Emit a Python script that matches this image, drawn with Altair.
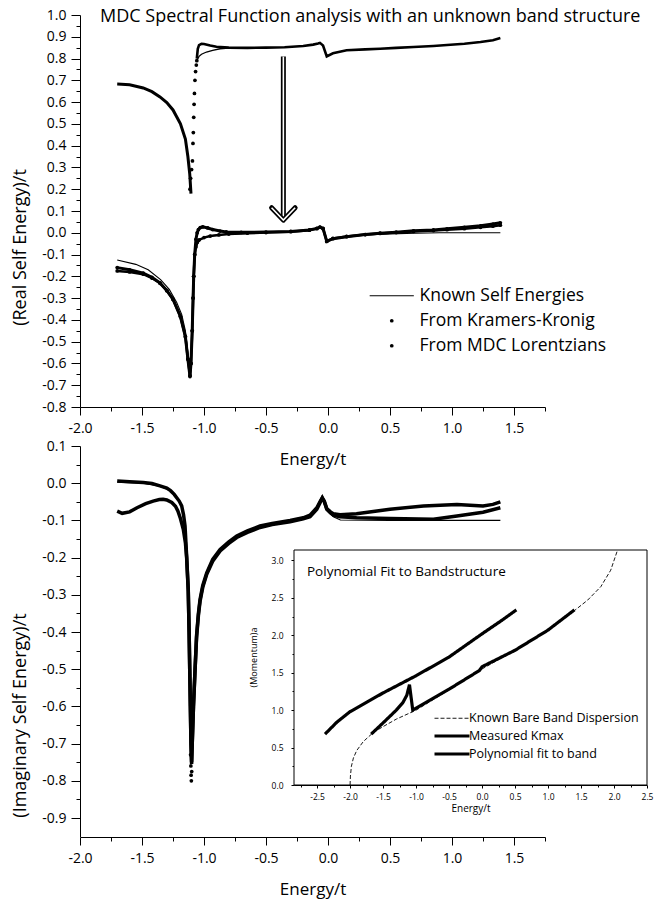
import altair as alt
import pandas as pd

FONT = "Open Sans"
LABEL_EXPR = "replace(format(datum.value, '.1f'), '\u2212', '-')"

TITLE = "MDC Spectral Function analysis with an unknown band structure"
INSET_TITLE = "Polynomial Fit to Bandstructure"

# ---------------- tick values ----------------
X_TICKS = [-2.0, -1.5, -1.0, -0.5, 0.0, 0.5, 1.0, 1.5]
X_MINOR = [-1.75, -1.25, -0.75, -0.25, 0.25, 0.75, 1.25, 1.75]
RE_TICKS = [-0.8, -0.7, -0.6, -0.5, -0.4, -0.3, -0.2, -0.1, 0.0, 0.1,
            0.2, 0.3, 0.4, 0.5, 0.6, 0.7, 0.8, 0.9, 1.0]
RE_MINOR = [-0.75, -0.65, -0.55, -0.45, -0.35, -0.25, -0.15, -0.05, 0.05,
            0.15, 0.25, 0.35, 0.45, 0.55, 0.65, 0.75, 0.85, 0.95]
IM_TICKS = [-0.9, -0.8, -0.7, -0.6, -0.5, -0.4, -0.3, -0.2, -0.1, 0.0, 0.1]
IM_MINOR = [-0.85, -0.75, -0.65, -0.55, -0.45, -0.35, -0.25, -0.15, -0.05, 0.05]
INS_X_TICKS = [-2.5, -2.0, -1.5, -1.0, -0.5, 0.0, 0.5, 1.0, 1.5, 2.0, 2.5]
INS_X_MINOR = [-2.75, -2.25, -1.75, -1.25, -0.75, -0.25, 0.25, 0.75, 1.25, 1.75, 2.25]
INS_Y_TICKS = [0.0, 0.5, 1.0, 1.5, 2.0, 2.5, 3.0]
INS_Y_MINOR = [0.25, 0.75, 1.25, 1.75, 2.25, 2.75]

X_DOMAIN = [-2.0, 1.75]
RE_DOMAIN = [-0.8, 1.0]
IM_DOMAIN = [-0.95, 0.1]
INS_X_DOMAIN = [-2.85, 2.5]
INS_Y_DOMAIN = [0.0, 3.14]

# ---------------- real part of the self energy (E, Re) ----------------
RE_KNOWN = [(-1.70, -0.125), (-1.55, -0.145), (-1.45, -0.17), (-1.35, -0.215), (-1.28, -0.26),
            (-1.22, -0.32), (-1.18, -0.375), (-1.15, -0.45), (-1.13, -0.55), (-1.113, -0.64),
            (-1.105, -0.6), (-1.095, -0.45), (-1.088, -0.3), (-1.083, -0.2), (-1.075, -0.1),
            (-1.065, -0.07), (-1.05, -0.048), (-1.03, -0.033), (-1.00, -0.022), (-0.95, -0.014),
            (-0.85, -0.008), (-0.70, -0.004), (-0.50, 0.0), (-0.30, 0.005), (-0.15, 0.012),
            (-0.09, 0.019), (-0.065, 0.024), (-0.04, 0.018), (-0.01, -0.036), (0.04, -0.027),
            (0.15, -0.018), (0.30, -0.01), (0.50, -0.005), (0.70, -0.002), (0.90, 0.0),
            (1.10, 0.0), (1.39, 0.0)]
RE_MDC = [(-1.70, -0.16), (-1.60, -0.17), (-1.49, -0.185), (-1.42, -0.205), (-1.355, -0.23),
          (-1.30, -0.265), (-1.25, -0.305), (-1.19, -0.385), (-1.15, -0.477), (-1.13, -0.58),
          (-1.113, -0.66), (-1.105, -0.6), (-1.095, -0.45), (-1.088, -0.3), (-1.083, -0.2),
          (-1.075, -0.1), (-1.065, -0.03), (-1.055, 0.0), (-1.045, 0.015), (-1.03, 0.024),
          (-1.01, 0.027), (-0.97, 0.022), (-0.93, 0.015), (-0.87, 0.008), (-0.82, 0.004),
          (-0.70, 0.002), (-0.50, 0.003), (-0.30, 0.006), (-0.15, 0.013), (-0.09, 0.02),
          (-0.065, 0.026), (-0.04, 0.02), (-0.01, -0.04), (0.04, -0.027), (0.15, -0.018),
          (0.30, -0.008), (0.42, -0.002), (0.55, 0.003), (0.69, 0.009), (0.85, 0.013),
          (0.96, 0.018), (1.10, 0.025), (1.23, 0.032), (1.33, 0.04), (1.39, 0.046)]
RE_KK = [(-1.70, -0.175), (-1.60, -0.18), (-1.49, -0.19), (-1.42, -0.208), (-1.355, -0.232),
         (-1.30, -0.266), (-1.25, -0.306), (-1.19, -0.385), (-1.15, -0.477), (-1.13, -0.58),
         (-1.113, -0.655), (-1.105, -0.6), (-1.095, -0.45), (-1.088, -0.3), (-1.083, -0.2),
         (-1.075, -0.1), (-1.065, -0.065), (-1.055, -0.045), (-1.04, -0.033), (-1.00, -0.022),
         (-0.95, -0.015), (-0.88, -0.01), (-0.80, -0.006), (-0.65, -0.002), (-0.50, 0.001),
         (-0.30, 0.005), (-0.15, 0.012), (-0.09, 0.019), (-0.065, 0.025), (-0.04, 0.019),
         (-0.01, -0.038), (0.04, -0.026), (0.15, -0.017), (0.30, -0.008), (0.42, -0.003),
         (0.55, 0.001), (0.69, 0.006), (0.85, 0.01), (0.96, 0.014), (1.10, 0.019),
         (1.23, 0.025), (1.33, 0.03), (1.39, 0.035)]

# the same curves drawn 0.85 higher (before the shift indicated by the arrow)
UP_LEFT = [(-1.70, 0.683), (-1.60, 0.68), (-1.49, 0.665), (-1.42, 0.648), (-1.355, 0.624),
           (-1.30, 0.598), (-1.25, 0.564), (-1.19, 0.50), (-1.15, 0.43), (-1.13, 0.35),
           (-1.115, 0.27), (-1.105, 0.18)]
UP_KK_DOTS = [(-1.113, 0.20), (-1.108, 0.25), (-1.10, 0.29), (-1.093, 0.33), (-1.089, 0.41),
              (-1.086, 0.46), (-1.083, 0.53), (-1.08, 0.59), (-1.077, 0.64), (-1.073, 0.70),
              (-1.068, 0.74), (-1.062, 0.77), (-1.058, 0.79)]
UP_KK = [(-1.058, 0.79), (-1.04, 0.81), (-1.02, 0.82), (-0.98, 0.83), (-0.93, 0.838),
         (-0.87, 0.845), (-0.80, 0.848), (-0.70, 0.85), (-0.55, 0.85)]
UP_MDC = [(-1.058, 0.80), (-1.05, 0.845), (-1.04, 0.862), (-1.02, 0.868), (-1.00, 0.867),
          (-0.95, 0.86), (-0.90, 0.854), (-0.80, 0.85), (-0.65, 0.849), (-0.50, 0.85),
          (-0.35, 0.852), (-0.20, 0.858), (-0.12, 0.864), (-0.08, 0.869), (-0.065, 0.872),
          (-0.04, 0.86), (-0.01, 0.81), (0.04, 0.824), (0.15, 0.838), (0.30, 0.842),
          (0.42, 0.845), (0.55, 0.849), (0.69, 0.853), (0.85, 0.858), (0.96, 0.862),
          (1.10, 0.868), (1.23, 0.876), (1.33, 0.884), (1.39, 0.894)]

# arrow showing the downward shift
ARROW_E = -0.36
ARROW_TOP = 0.809
ARROW_TIP = 0.058
ARROW_HEAD = [(-0.455, 0.115), (-0.36, 0.058), (-0.265, 0.115)]

# ---------------- imaginary part of the self energy (E, Im) ----------------
IM_A = [(-1.70, 0.006), (-1.60, 0.004), (-1.49, 0.002), (-1.42, -0.001), (-1.355, -0.007),
        (-1.30, -0.013), (-1.27, -0.02), (-1.24, -0.03), (-1.22, -0.039), (-1.20, -0.048),
        (-1.18, -0.061), (-1.165, -0.085), (-1.153, -0.115), (-1.14, -0.196), (-1.127, -0.286),
        (-1.12, -0.40), (-1.115, -0.50), (-1.11, -0.60), (-1.105, -0.70), (-1.10, -0.755),
        (-1.095, -0.70), (-1.085, -0.60), (-1.072, -0.50), (-1.06, -0.41), (-1.045, -0.35),
        (-1.032, -0.313), (-1.01, -0.275), (-0.978, -0.241), (-0.93, -0.205), (-0.87, -0.178),
        (-0.80, -0.158), (-0.736, -0.142), (-0.65, -0.128), (-0.548, -0.115), (-0.45, -0.108),
        (-0.306, -0.10), (-0.20, -0.093), (-0.145, -0.086), (-0.09, -0.066), (-0.065, -0.05),
        (-0.046, -0.039), (-0.03, -0.05), (-0.01, -0.07), (0.02, -0.08), (0.043, -0.086),
        (0.097, -0.09), (0.23, -0.093), (0.50, -0.095), (0.85, -0.097), (1.04, -0.088),
        (1.25, -0.078), (1.39, -0.066)]
IM_B = [(-1.70, -0.075), (-1.66, -0.081), (-1.60, -0.077), (-1.54, -0.066), (-1.47, -0.055),
        (-1.41, -0.048), (-1.36, -0.044), (-1.33, -0.043), (-1.30, -0.045), (-1.26, -0.052),
        (-1.23, -0.062), (-1.21, -0.075), (-1.19, -0.095), (-1.167, -0.124), (-1.15, -0.16),
        (-1.14, -0.20), (-1.127, -0.29), (-1.12, -0.40), (-1.115, -0.50), (-1.11, -0.60),
        (-1.105, -0.70), (-1.10, -0.75), (-1.095, -0.70), (-1.085, -0.60), (-1.072, -0.50),
        (-1.06, -0.415), (-1.045, -0.355), (-1.032, -0.318), (-1.01, -0.28), (-0.978, -0.245),
        (-0.93, -0.21), (-0.87, -0.182), (-0.80, -0.162), (-0.736, -0.146), (-0.65, -0.132),
        (-0.548, -0.119), (-0.45, -0.111), (-0.306, -0.104), (-0.20, -0.096), (-0.145, -0.09),
        (-0.09, -0.07), (-0.065, -0.053), (-0.046, -0.04), (-0.03, -0.048), (-0.01, -0.068),
        (0.02, -0.077), (0.043, -0.082), (0.097, -0.085), (0.23, -0.082), (0.50, -0.07),
        (0.77, -0.061), (1.04, -0.057), (1.25, -0.061), (1.33, -0.057), (1.39, -0.05)]
IM_KNOWN = [(-1.70, 0.003), (-1.49, 0.0), (-1.355, -0.008), (-1.27, -0.02), (-1.22, -0.038),
            (-1.18, -0.06), (-1.153, -0.113), (-1.14, -0.19), (-1.127, -0.28), (-1.12, -0.39),
            (-1.11, -0.60), (-1.10, -0.75), (-1.085, -0.60), (-1.06, -0.405), (-1.032, -0.313),
            (-0.978, -0.241), (-0.87, -0.178), (-0.736, -0.142), (-0.548, -0.115), (-0.306, -0.10),
            (-0.145, -0.087), (-0.09, -0.067), (-0.046, -0.041), (-0.01, -0.072), (0.043, -0.09),
            (0.10, -0.099), (0.50, -0.10), (1.00, -0.10), (1.39, -0.10)]
IM_DOTS = [(-1.108, -0.73), (-1.106, -0.76), (-1.104, -0.785), (-1.102, -0.80), (-1.099, -0.775)]

# ---------------- inset: band structure (E, k*a) ----------------
BARE_BAND = [(-2.0, 0.0), (-1.995, 0.12), (-1.98, 0.25), (-1.95, 0.36), (-1.90, 0.46),
             (-1.80, 0.58), (-1.65, 0.70), (-1.50, 0.78), (-1.30, 0.88), (-1.10, 0.96),
             (-1.0, 1.0), (-0.5, 1.27), (0.0, 1.55), (0.5, 1.80), (1.0, 2.07), (1.4, 2.33),
             (1.6, 2.47), (1.8, 2.65), (1.95, 2.87), (2.05, 3.13)]
K_MAX = [(-1.68, 0.68), (-1.50, 0.83), (-1.30, 1.0), (-1.20, 1.10), (-1.14, 1.20),
         (-1.10, 1.34), (-1.05, 1.0), (-0.5, 1.28), (-0.04, 1.53), (0.0, 1.58), (0.5, 1.80),
         (1.0, 2.07), (1.4, 2.34)]
POLY_FIT = [(-2.38, 0.68), (-2.2, 0.84), (-2.0, 0.98), (-1.5, 1.23), (-1.0, 1.46),
            (-0.5, 1.71), (0.0, 2.02), (0.3, 2.20), (0.52, 2.34)]

TOP_SERIES = ["Known Self Energies", "From Kramers-Kronig", "From MDC Lorentzians"]
INSET_SERIES = ["Known Bare Band Dispersion", "Measured Kmax", "Polynomial fit to band"]

# ---------------- layout (pixels inside the shared plot area) ----------------
W, H = 567, 822
TOP_X = alt.Scale(domain=X_DOMAIN, range=[0, 465], nice=False, zero=False)
TOP_Y = alt.Scale(domain=RE_DOMAIN, range=[392, 0], nice=False, zero=False)
BOT_X = alt.Scale(domain=X_DOMAIN, range=[0, 465], nice=False, zero=False)
BOT_Y = alt.Scale(domain=IM_DOMAIN, range=[821.6, 431], nice=False, zero=False)
INS_X = alt.Scale(domain=INS_X_DOMAIN, range=[214, 567], nice=False, zero=False)
INS_Y = alt.Scale(domain=INS_Y_DOMAIN, range=[770, 535], nice=False, zero=False)


def frame(pairs, **extra):
    df = pd.DataFrame(pairs, columns=["E", "v"])
    for k, val in extra.items():
        df[k] = val
    return df


def enc(xs, ys, xaxis=None, yaxis=None):
    # layers without an explicit axis keep the default so that the panel's
    # axis defined on another layer is merged in, not disabled
    xkw = {"scale": xs}
    ykw = {"scale": ys}
    if xaxis is not None:
        xkw["axis"] = xaxis
    if yaxis is not None:
        ykw["axis"] = yaxis
    return dict(x=alt.X("E:Q", **xkw), y=alt.Y("v:Q", **ykw))


def curve(pairs, xs, ys, width, **kw):
    return alt.Chart(frame(pairs)).mark_line(color="black", strokeWidth=width, **kw).encode(**enc(xs, ys))


def major_x(offset, title):
    return alt.Axis(values=X_TICKS, orient="bottom", offset=offset, title=title, labelExpr=LABEL_EXPR,
                    tickSize=8, labelPadding=6, labelFontSize=14, titleFontSize=17,
                    titlePadding=16, labelFlush=False, labelOverlap=False)


def major_y(values, title, title_y):
    return alt.Axis(values=values, orient="left", title=title, labelExpr=LABEL_EXPR, tickSize=9,
                    labelPadding=5, labelFontSize=14, titleFontSize=18, titleX=-51, titleY=title_y,
                    titleBaseline="bottom", labelFlush=False, labelOverlap=False)


def minor_axis(values, orient, offset=0, tick=4):
    return alt.Axis(values=values, orient=orient, offset=offset, labels=False, domain=False,
                    tickSize=tick, title=None)


# ---------------- top panel: real part ----------------
top_axes = alt.Chart(frame(RE_MDC)).mark_line(color="black", strokeWidth=3).encode(
    **enc(TOP_X, TOP_Y, major_x(-430, "Energy/t"), major_y(RE_TICKS, "(Real Self Energy)/t", 232)))

shape_scale = alt.Scale(domain=TOP_SERIES, range=["M-11.8,-0.3H11.8V0.3H-11.8Z", "circle", "circle"])
top_legend = alt.Legend(title=None, orient="none", legendX=303, legendY=272, labelFont=FONT,
                        labelFontSize=17.5, labelOffset=19, rowPadding=6, padding=0, symbolSize=14,
                        labelColor="black", labelLimit=400)
top_points = alt.Chart(pd.concat([
    frame(RE_KK, series=TOP_SERIES[1]),
    frame(RE_MDC, series=TOP_SERIES[2]),
    frame(UP_KK_DOTS, series=TOP_SERIES[1]),
])).mark_point(filled=True, opacity=1, size=14, color="black").encode(
    **enc(TOP_X, TOP_Y), shape=alt.Shape("series:N", scale=shape_scale, legend=top_legend))

arrow_df = pd.DataFrame({"E": [ARROW_E], "v": [ARROW_TOP], "v2": [ARROW_TIP + 0.01]})
arrow_outer = alt.Chart(arrow_df).mark_rule(color="black", strokeWidth=5).encode(
    **enc(TOP_X, TOP_Y), y2="v2:Q")
arrow_inner = alt.Chart(arrow_df).mark_rule(color="white", strokeWidth=1.6).encode(
    **enc(TOP_X, TOP_Y), y2="v2:Q")
head_outer = curve(ARROW_HEAD, TOP_X, TOP_Y, 5, strokeCap="round", strokeJoin="round")
head_inner = alt.Chart(frame(ARROW_HEAD)).mark_line(color="white", strokeWidth=1.6).encode(**enc(TOP_X, TOP_Y))

top_major = alt.layer(
    top_axes,
    curve(RE_KK, TOP_X, TOP_Y, 2.5),
    curve(RE_KNOWN, TOP_X, TOP_Y, 1.1),
    curve(UP_LEFT, TOP_X, TOP_Y, 3),
    curve(UP_KK, TOP_X, TOP_Y, 1.3),
    curve(UP_MDC, TOP_X, TOP_Y, 2.6),
    top_points,
    arrow_outer, arrow_inner, head_outer, head_inner,
)
top_minor = alt.Chart(frame(RE_KNOWN)).mark_point(opacity=0).encode(
    **enc(TOP_X, TOP_Y, minor_axis(X_MINOR, "bottom", -430), minor_axis(RE_MINOR, "left")))

# ---------------- bottom panel: imaginary part ----------------
bot_axes = alt.Chart(frame(IM_A)).mark_line(color="black", strokeWidth=3.5).encode(
    **enc(BOT_X, BOT_Y, major_x(0, "Energy/t"), major_y(IM_TICKS, "(Imaginary Self Energy)/t", 700)))
bot_major = alt.layer(
    bot_axes,
    curve(IM_B, BOT_X, BOT_Y, 3.5),
    curve(IM_KNOWN, BOT_X, BOT_Y, 1.1),
    alt.Chart(frame(IM_DOTS)).mark_point(filled=True, opacity=1, size=14, color="black").encode(
        **enc(BOT_X, BOT_Y)),
)
bot_minor = alt.Chart(frame(IM_KNOWN)).mark_point(opacity=0).encode(
    **enc(BOT_X, BOT_Y, minor_axis(X_MINOR, "bottom"), minor_axis(IM_MINOR, "left")))

# ---------------- inset: band structure ----------------
inset_box = alt.Chart(pd.DataFrame({"a": [0]})).mark_rect(fill="white", stroke="black", strokeWidth=1).encode(
    x=alt.X(datum=INS_X_DOMAIN[0], type="quantitative", scale=INS_X,
            axis=alt.Axis(values=INS_X_TICKS, orient="bottom", offset=-52, title="Energy/t",
                          labelExpr=LABEL_EXPR, tickSize=3, labelPadding=4, labelFontSize=8.5,
                          titleFontSize=10, titlePadding=3, labelFlush=False, labelOverlap=False)),
    x2=alt.X2(datum=INS_X_DOMAIN[1]),
    y=alt.Y(datum=INS_Y_DOMAIN[0], type="quantitative", scale=INS_Y,
            axis=alt.Axis(values=INS_Y_TICKS, orient="left", offset=-214, title="(Momentum)a",
                          labelExpr=LABEL_EXPR, tickSize=3, labelPadding=8, labelFontSize=8.5,
                          titleFontSize=9, titleX=-36, titleY=642, titleBaseline="bottom",
                          labelFlush=False, labelOverlap=False)),
    y2=alt.Y2(datum=INS_Y_DOMAIN[1]),
)
inset_legend = alt.Legend(title=None, orient="none", legendX=365, legendY=697, labelFont=FONT,
                          labelFontSize=12.5, labelOffset=10, rowPadding=4, padding=0,
                          symbolType="M-3.5,0H3.5", symbolSize=100, labelColor="black", labelLimit=400)
inset_lines = alt.Chart(pd.concat([
    frame(BARE_BAND, series=INSET_SERIES[0]),
    frame(K_MAX, series=INSET_SERIES[1]),
    frame(POLY_FIT, series=INSET_SERIES[2]),
])).mark_line(color="black").encode(
    **enc(INS_X, INS_Y),
    detail="series:N",
    strokeDash=alt.StrokeDash("series:N", scale=alt.Scale(domain=INSET_SERIES, range=[[4, 2], [1, 0], [1, 0]]),
                              legend=inset_legend),
    strokeWidth=alt.StrokeWidth("series:N", scale=alt.Scale(type="ordinal", domain=INSET_SERIES, range=[0.9, 3.2, 3.2]),
                                legend=inset_legend),
)
inset_title = alt.Chart(pd.DataFrame({"t": [INSET_TITLE]})).mark_text(
    align="left", baseline="middle", font=FONT, fontSize=13.5, color="black").encode(
    text="t:N", x=alt.value(227), y=alt.value(557))
inset_major = alt.layer(inset_box, inset_lines, inset_title)
inset_minor = alt.Chart(frame(BARE_BAND)).mark_point(opacity=0).encode(
    **enc(INS_X, INS_Y, minor_axis(INS_X_MINOR, "bottom", -52, 2), minor_axis(INS_Y_MINOR, "left", -214, 2)))

title = alt.Chart(pd.DataFrame({"t": [TITLE]})).mark_text(
    align="left", baseline="middle", font=FONT, fontSize=18, color="black").encode(
    text="t:N", x=alt.value(20), y=alt.value(2))

chart = alt.layer(
    top_major, top_minor, bot_major, bot_minor, inset_major, inset_minor, title
).resolve_scale(x="independent", y="independent").properties(
    width=W, height=H,
    autosize=alt.AutoSizeParams(type="none"),
    padding={"left": 80, "top": 15, "right": 9, "bottom": 63},
    background="white",
).configure_view(stroke=None).configure_axis(
    grid=False, domainColor="black", tickColor="black", labelColor="black", titleColor="black",
    labelFont=FONT, titleFont=FONT, titleFontWeight="normal", domainWidth=1, tickWidth=1,
)

chart.save("out.html", embed_options={"renderer": "svg", "actions": False})
